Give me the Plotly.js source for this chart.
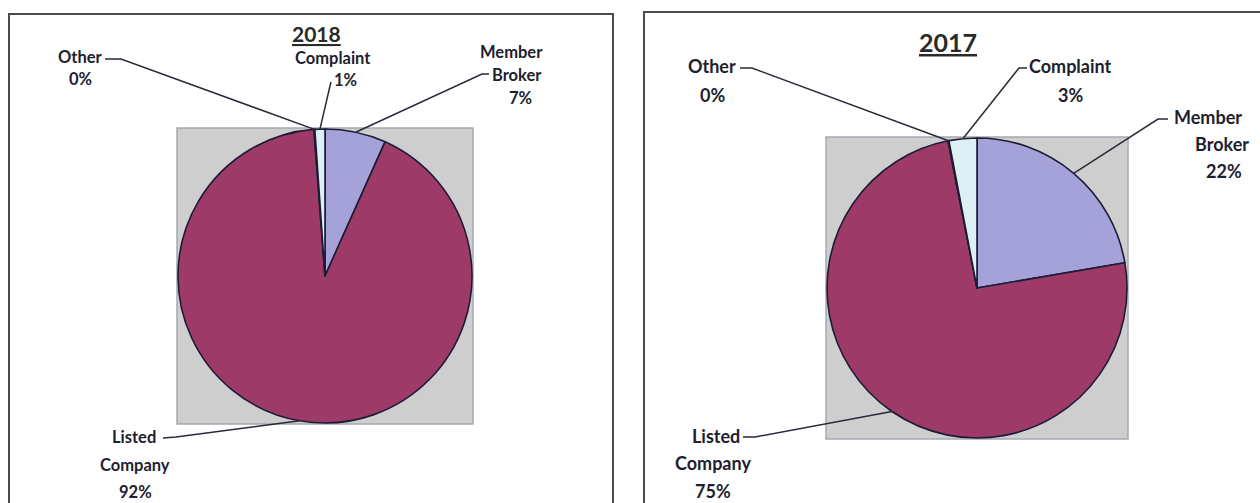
<!DOCTYPE html>
<html>
<head>
<meta charset="utf-8">
<script src="https://cdn.plot.ly/plotly-3.0.1.min.js"></script>
<style>html,body{margin:0;padding:0;background:#fff;}#chart{width:1260px;height:503px;}</style>
</head>
<body>
<div id="chart"></div>
<script>
// ---- data ----
const categories = ['Member Broker', 'Listed Company', 'Other', 'Complaint'];
const labelLines = [['Member', 'Broker'], ['Listed', 'Company'], ['Other'], ['Complaint']];
const years = ['2018', '2017'];
const values2018 = [6.7, 92.1, 0.1, 1.1];
const values2017 = [22.3, 74.6, 0.1, 3.0];
const sliceColors = ['#A4A2D9', '#9E3A68', '#C8C8D0', '#DDF1F5'];

// ---- layout (pixels) ----
const W = 1260, H = 503;
const panels = [
  { values: values2018, year: years[0], cx: 325, cy: 276, r: 147,
    box: [9, 14, 613, 520], title: { x: 316, y: 33, size: 21 }, font: 16.5,
    labels: [
      { xs: [511, 517, 520], ys: [52, 75, 98], lead: [[489, 74], [482, 74]] },
      { xs: [134, 135, 135], ys: [437, 465, 492], lead: [[163, 438], [176, 437]] },
      { xs: [80, 80], ys: [57, 79], lead: [[105, 59], [121, 59]] },
      { xs: [333, 345], ys: [58, 80], lead: [[331, 82], [330, 86]] }
    ] },
  { values: values2017, year: years[1], cx: 977, cy: 288, r: 150,
    box: [644, 12, 1275, 520], title: { x: 948, y: 42, size: 25 }, font: 18,
    labels: [
      { xs: [1208, 1222, 1224], ys: [117, 144, 171], lead: [[1168, 119], [1158, 119]] },
      { xs: [716, 713, 713], ys: [436, 463, 491], lead: [[743, 437], [755, 437]] },
      { xs: [712, 712], ys: [66, 95], lead: [[740, 68], [752, 68]] },
      { xs: [1070, 1070], ys: [66, 95], lead: [[1027, 68], [1019, 68]] }
    ] }
];

const px = x => x / W;
const py = y => 1 - y / H;

const traces = [];
const shapes = [];
const annotations = [];
const textColor = '#1E1E2E';
const fontFam = 'Lato, "Open Sans", sans-serif';

panels.forEach(p => {
  // frame
  shapes.push({ type: 'rect', xref: 'paper', yref: 'paper', layer: 'below',
    x0: px(p.box[0]), x1: px(p.box[2]), y0: py(p.box[3]), y1: py(p.box[1]),
    line: { color: '#4A4A4A', width: 2 }, fillcolor: 'rgba(0,0,0,0)' });
  // grey plot area = pie bounding square
  shapes.push({ type: 'rect', xref: 'paper', yref: 'paper', layer: 'below',
    x0: px(p.cx - p.r - 1), x1: px(p.cx + p.r + 1), y0: py(p.cy + p.r + 1), y1: py(p.cy - p.r - 1),
    line: { color: '#A8A8B4', width: 1.5 }, fillcolor: '#CECECE' });

  traces.push({
    type: 'pie', labels: categories, values: p.values, sort: false,
    direction: 'clockwise', rotation: 0, textinfo: 'none', hoverinfo: 'label+percent',
    marker: { colors: sliceColors, line: { color: '#1C1C36', width: 1.6 } },
    domain: { x: [px(p.cx - p.r), px(p.cx + p.r)], y: [py(p.cy + p.r), py(p.cy - p.r)] },
    showlegend: false
  });

  // title
  annotations.push({ xref: 'paper', yref: 'paper', x: px(p.title.x), y: py(p.title.y),
    xanchor: 'center', yanchor: 'middle', showarrow: false,
    text: '<b><u>' + p.year + '</u></b>',
    font: { family: fontFam, size: p.title.size, color: '#2A2A2A' } });

  const total = p.values.reduce((a, b) => a + b, 0);
  let cum = 0;
  p.values.forEach((v, i) => {
    const mid = (cum + v / 2) / total * 2 * Math.PI;
    cum += v;
    const ex = p.cx + p.r * Math.sin(mid);
    const ey = p.cy - p.r * Math.cos(mid);
    const pct = Math.round(v / total * 100) + '%';
    const lines = labelLines[i].concat([pct]);
    const L = p.labels[i];
    lines.forEach((t, k) => {
      annotations.push({ xref: 'paper', yref: 'paper', x: px(L.xs[k]), y: py(L.ys[k]),
        xanchor: 'center', yanchor: 'middle', showarrow: false,
        text: '<b>' + t + '</b>',
        font: { family: fontFam, size: p.font, color: textColor } });
    });
    const pts = L.lead.concat([[ex, ey]]);
    const path = pts.map((q, k) => (k ? 'L' : 'M') + px(q[0]).toFixed(5) + ',' + py(q[1]).toFixed(5)).join(' ');
    shapes.push({ type: 'path', xref: 'paper', yref: 'paper', path: path,
      line: { color: '#2A2A3A', width: 1.5 } });
  });
});

Plotly.newPlot('chart', traces, {
  width: W, height: H, margin: { l: 0, r: 0, t: 0, b: 0 },
  paper_bgcolor: '#FFFFFF', plot_bgcolor: '#FFFFFF',
  shapes: shapes, annotations: annotations, showlegend: false
}, { displayModeBar: false, staticPlot: true });
</script>
</body>
</html>
